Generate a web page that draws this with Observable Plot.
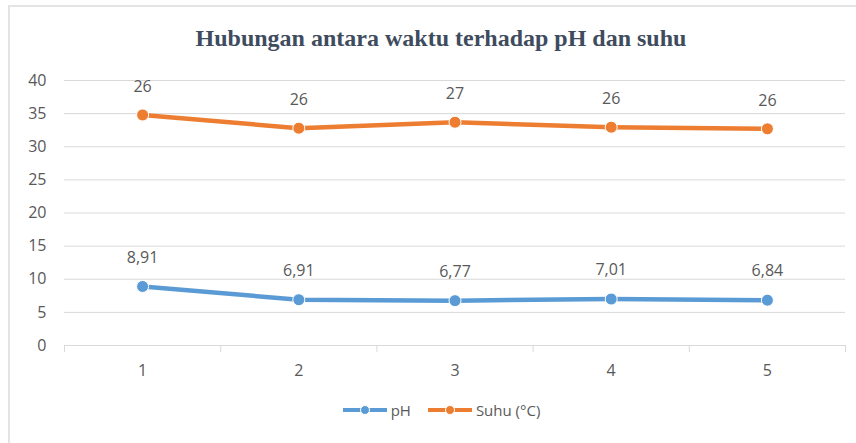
<!DOCTYPE html>
<html><head><meta charset="utf-8">
<script src="https://cdn.jsdelivr.net/npm/d3@7"></script>
<script src="https://cdn.jsdelivr.net/npm/@observablehq/plot@0.6"></script>
<style>
body{margin:0;background:#fff;width:856px;height:443px;overflow:hidden;position:relative;font-family:"Open Sans",sans-serif;}
#frame{position:absolute;left:8px;top:5px;width:900px;height:460px;border-left:2px solid #e4e4e4;border-top:2px solid #e4e4e4;}
#title{position:absolute;left:0;width:882px;top:25px;text-align:center;font:bold 24px "Liberation Serif",serif;color:#3E4C5E;}
#chart{position:absolute;left:0;top:60px;}
#legend{position:absolute;left:0;width:882px;top:400px;display:flex;justify-content:center;align-items:center;font-size:15px;color:#595959;gap:0;}
#legend .item{display:flex;align-items:center;margin:0 8px;}
#legend svg{margin-right:3px;}
</style>
</head><body>
<div id="frame"></div>
<div id="title">Hubungan antara waktu terhadap pH dan suhu</div>
<div id="chart"></div>
<div id="legend"></div>
<script>
const categories = [1, 2, 3, 4, 5];
const ph = [8.91, 6.91, 6.77, 7.01, 6.84];
const phLabels = ["8,91", "6,91", "6,77", "7,01", "6,84"];
const suhu = [34.8, 32.8, 33.7, 32.95, 32.7];
const suhuLabels = ["26", "26", "27", "26", "26"];
const yTicks = [0, 5, 10, 15, 20, 25, 30, 35, 40];
const seriesNames = ["pH", "Suhu (°C)"];
const colors = ["#5B9BD5", "#ED7D31"];

const data = categories.map((c, i) => ({waktu: c, ph: ph[i], phLabel: phLabels[i], suhu: suhu[i], suhuLabel: suhuLabels[i]}));
const boundaries = [0.5, ...categories.map(c => c + 0.5)];

const chart = Plot.plot({
  width: 856, height: 330,
  marginLeft: 64, marginRight: 11, marginTop: 20, marginBottom: 45,
  style: {fontFamily: "Open Sans", fontSize: "16px", color: "#595959", background: "transparent"},
  x: {type: "linear", domain: [0.5, 5.5], axis: null},
  y: {domain: [0, 40], axis: null},
  marks: [
    Plot.ruleY(yTicks, {stroke: "#d9d9d9", strokeWidth: 1}),
    Plot.ruleX(boundaries, {y1: 0, y2: -1.05, stroke: "#d9d9d9", strokeWidth: 1}),
    Plot.axisY(yTicks, {tickSize: 0, tickPadding: 18, fontSize: 16, fill: "#595959", label: null, tickFormat: d => String(d)}),
    Plot.axisX(categories, {tickSize: 0, tickPadding: 19, fontSize: 16, fill: "#595959", label: null, tickFormat: d => String(d)}),
    Plot.line(data, {x: "waktu", y: "suhu", stroke: colors[1], strokeWidth: 4.5}),
    Plot.dot(data, {x: "waktu", y: "suhu", r: 6, fill: colors[1], stroke: "white", strokeWidth: 1}),
    Plot.line(data, {x: "waktu", y: "ph", stroke: colors[0], strokeWidth: 4.5}),
    Plot.dot(data, {x: "waktu", y: "ph", r: 6, fill: colors[0], stroke: "white", strokeWidth: 1}),
    Plot.text(data, {x: "waktu", y: "suhu", text: "suhuLabel", dy: -28, fontSize: 16, fill: "#595959"}),
    Plot.text(data, {x: "waktu", y: "ph", text: "phLabel", dy: -29, fontSize: 16, fill: "#595959"})
  ]
});
document.getElementById("chart").appendChild(chart);

const legend = document.getElementById("legend");
seriesNames.forEach((name, i) => {
  const item = document.createElement("div");
  item.className = "item";
  item.innerHTML = `<svg width="46" height="12"><line x1="1" x2="45" y1="6" y2="6" stroke="${colors[i]}" stroke-width="4"/><circle cx="23" cy="6" r="4.5" fill="${colors[i]}" stroke="white" stroke-width="1"/></svg><span>${name}</span>`;
  legend.appendChild(item);
});
</script>
</body></html>
